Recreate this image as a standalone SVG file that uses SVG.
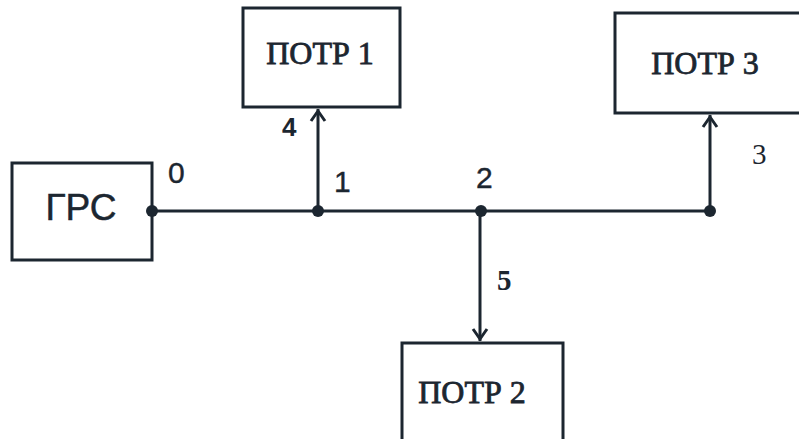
<svg xmlns="http://www.w3.org/2000/svg" width="799" height="439" viewBox="0 0 799 439">
<defs>
<style>
.box{fill:#fff;stroke:#1c2630;stroke-width:3}
.ln{stroke:#1c2630;stroke-width:3;fill:none}
.ah{stroke:#1c2630;stroke-width:3;fill:none;stroke-linejoin:miter}
.dot{fill:#1c2630}
.serif{font-family:"Liberation Serif","Times New Roman",serif;fill:#1c2630}
.sans{font-family:"Liberation Sans",Arial,sans-serif;fill:#1c2630}
.nm{font-size:32px;stroke:#1c2630;stroke-width:0.8}
.lb{font-size:30px;stroke:#1c2630;stroke-width:0.4}
</style>
</defs>
<rect width="799" height="439" fill="#fff"/>
<g id="grs">
<rect class="box" x="12" y="163" width="140" height="97"/>
<text class="sans" x="81" y="220" font-size="37" text-anchor="middle" stroke="#1c2630" stroke-width="0.5">ГРС</text>
</g>
<g id="potr1">
<rect class="box" x="243" y="8" width="157" height="99"/>
<text class="serif nm" x="320" y="64" text-anchor="middle">ПОТР 1</text>
</g>
<g id="potr3">
<rect class="box" x="615" y="13" width="190" height="100"/>
<text class="serif nm" x="705" y="74" text-anchor="middle">ПОТР 3</text>
</g>
<g id="potr2">
<rect class="box" x="402" y="343" width="161" height="110"/>
<text class="serif nm" x="472" y="403" text-anchor="middle">ПОТР 2</text>
</g>
<g id="connectors">
<line class="ln" x1="152" y1="211" x2="711" y2="211"/>
<line class="ln" x1="318" y1="211" x2="318" y2="109"/>
<line class="ln" x1="710" y1="211" x2="710" y2="115"/>
<line class="ln" x1="480" y1="211" x2="480" y2="341"/>
<polyline class="ah" points="311,121 318,111 325,121"/>
<polyline class="ah" points="703,127 710,117 717,127"/>
<polyline class="ah" points="473,329 480,339 487,329"/>
<circle class="dot" cx="152" cy="211" r="6"/>
<circle class="dot" cx="318" cy="211" r="6"/>
<circle class="dot" cx="481" cy="211" r="6"/>
<circle class="dot" cx="710" cy="211" r="6"/>
<text class="sans lb" x="168" y="183">0</text>
<text class="sans lb" x="334" y="192">1</text>
<text class="sans lb" x="476" y="188">2</text>
<text class="sans" x="282" y="136" font-size="26" font-weight="bold">4</text>
<text class="serif" x="752" y="164" font-size="29">3</text>
<text class="serif" x="497" y="290" font-size="29" font-weight="bold">5</text>
</g>
</svg>
